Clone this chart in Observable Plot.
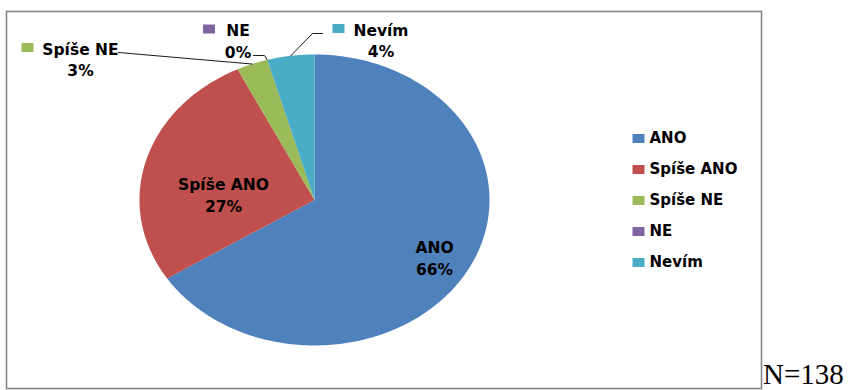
<!DOCTYPE html>
<html><head><meta charset="utf-8">
<script src="https://cdn.jsdelivr.net/npm/d3@7"></script>
<script src="https://cdn.jsdelivr.net/npm/@observablehq/plot@0.6"></script>
<style>
html,body{margin:0;padding:0;background:#fff;}
#wrap{position:relative;width:851px;height:390px;overflow:hidden;}
#wrap > *{position:absolute;left:0;top:0;}
#wrap > #caption{left:763px;top:362px;font-family:"Liberation Serif","Times New Roman",serif;font-size:29px;line-height:24px;color:#000;white-space:nowrap;}
#wrap > #legend{left:626px;top:120px;}
</style></head><body>
<div id="wrap"><div id="caption"></div></div>
<script>
// ---- data ----
const categories = ["ANO", "Spíše ANO", "Spíše NE", "NE", "Nevím"];
const counts = [91, 37, 4, 0, 6];
const colors = ["#4F81BD", "#C0504D", "#9BBB59", "#8064A2", "#4BACC6"];
const sampleLabel = "N=138";

// ---- layout (pixels) ----
const PIE = {cx: 314, cy: 199.5, rx: 175, ry: 145.5};
const ux = px => (px - PIE.cx) / PIE.rx;
const uy = py => (PIE.cy - py) / PIE.ry;
const labelLayout = {
  "ANO":       {x: 434,   y: 256.5},
  "Spíše ANO": {x: 223,   y: 193.5},
  "Spíše NE":  {x: 80,    y: 58,   key: [27, 47],    leader: [[118, 52]]},
  "NE":        {x: 237.5, y: 39.5, key: [208.5, 28.5], leader: [[253, 55], [264, 55]]},
  "Nevím":     {x: 380.5, y: 39,   key: [338, 28],   leader: [[322, 33], [312, 33]]}
};
const FONT = "DejaVu Sans, Verdana, sans-serif";
const keySymbol = {draw(ctx) { ctx.moveTo(-6, -4.5); ctx.lineTo(6, -4.5); ctx.lineTo(6, 4.5); ctx.lineTo(-6, 4.5); ctx.closePath(); }};

// ---- derived geometry ----
const total = d3.sum(counts);
let acc = 0;
const slices = categories.map((cat, i) => {
  const a0 = acc / total; acc += counts[i]; const a1 = acc / total;
  return {cat, value: counts[i], a0, a1, pct: Math.round(counts[i] / total * 100) + "%"};
});
const slicePts = [];
for (const s of slices) {
  if (s.value <= 0) continue;
  slicePts.push({cat: s.cat, x: 0, y: 0});
  const n = Math.max(2, Math.ceil((s.a1 - s.a0) * 360));
  for (let k = 0; k <= n; k++) {
    const t = 2 * Math.PI * (s.a0 + (s.a1 - s.a0) * k / n);
    slicePts.push({cat: s.cat, x: Math.sin(t), y: Math.cos(t)});
  }
}
const leaderPts = [];
const keyPts = [];
const labels = slices.map(s => {
  const L = labelLayout[s.cat];
  if (L.leader) {
    for (const [px, py] of L.leader) leaderPts.push({cat: s.cat, x: ux(px), y: uy(py)});
    const t = 2 * Math.PI * (s.a0 + s.a1) / 2;
    leaderPts.push({cat: s.cat, x: Math.sin(t), y: Math.cos(t)});
  }
  if (L.key) keyPts.push({cat: s.cat, x: ux(L.key[0]), y: uy(L.key[1])});
  return {cat: s.cat, x: ux(L.x), y: uy(L.y), text: s.cat + "\n" + s.pct};
});

const colorScale = {domain: categories, range: colors};

const main = Plot.plot({
  width: 851, height: 390,
  marginLeft: 6, marginTop: 11, marginRight: 90, marginBottom: 2,
  x: {domain: [-1, 1], range: [PIE.cx - PIE.rx, PIE.cx + PIE.rx], axis: null},
  y: {domain: [-1, 1], range: [PIE.cy + PIE.ry, PIE.cy - PIE.ry], axis: null},
  color: colorScale,
  style: {background: "transparent", overflow: "visible"},
  marks: [
    Plot.frame({stroke: "#868686", strokeWidth: 1.6}),
    Plot.line(slicePts, {x: "x", y: "y", z: "cat", fill: "cat", stroke: "none", curve: "linear-closed"}),
    Plot.line(leaderPts, {x: "x", y: "y", z: "cat", stroke: "#1a1a1a", strokeWidth: 1}),
    Plot.dot(keyPts, {x: "x", y: "y", fill: "cat", symbol: keySymbol, r: 6}),
    Plot.text(labels, {x: "x", y: "y", text: "text", textAnchor: "middle", lineAnchor: "middle",
      lineHeight: 1.38, fontSize: 15.5, fontWeight: "bold", fontFamily: FONT, fill: "#000"})
  ]
});
document.getElementById("wrap").prepend(main);

const legend = Plot.plot({
  width: 130, height: 160, margin: 0,
  y: {type: "point", domain: categories, range: [16, 143], padding: 0, axis: null},
  color: colorScale,
  style: {background: "transparent", overflow: "visible"},
  marks: [
    Plot.dot(categories, {y: d => d, fill: d => d, symbol: keySymbol, r: 6, frameAnchor: "left", dx: 12}),
    Plot.text(categories, {y: d => d, text: d => d, frameAnchor: "left", dx: 23, textAnchor: "start",
      fontSize: 15, fontWeight: "bold", fontFamily: FONT, fill: "#000"})
  ]
});
legend.id = "legend";
document.getElementById("wrap").appendChild(legend);

document.getElementById("caption").textContent = sampleLabel;
</script>
</body></html>
